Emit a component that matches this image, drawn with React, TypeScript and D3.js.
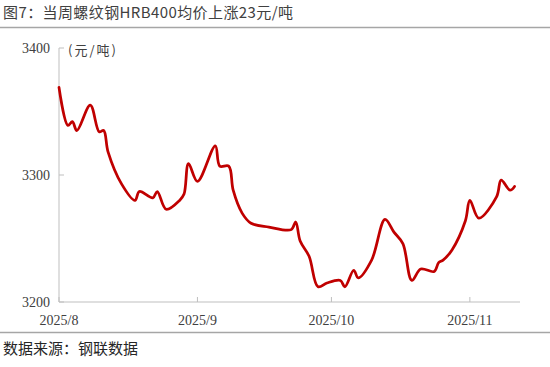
import React from 'react'
import * as d3 from 'd3'

// 螺纹钢HRB400均价（元/吨）
const dates = [
  '2025-08-01', '2025-08-03', '2025-08-04', '2025-08-05', '2025-08-08', '2025-08-10',
  '2025-08-11', '2025-08-12', '2025-08-15', '2025-08-18', '2025-08-19', '2025-08-22',
  '2025-08-23', '2025-08-25', '2025-08-28', '2025-08-29', '2025-08-30', '2025-09-01',
  '2025-09-05', '2025-09-06', '2025-09-08', '2025-09-09', '2025-09-11', '2025-09-13',
  '2025-09-17', '2025-09-22', '2025-09-23', '2025-09-24', '2025-09-26', '2025-09-28',
  '2025-09-30', '2025-10-03', '2025-10-04', '2025-10-06', '2025-10-07', '2025-10-10',
  '2025-10-13', '2025-10-15', '2025-10-17', '2025-10-19', '2025-10-21', '2025-10-24',
  '2025-10-25', '2025-10-26', '2025-10-28', '2025-10-31', '2025-11-01', '2025-11-03',
  '2025-11-07', '2025-11-08', '2025-11-10', '2025-11-11'
]
const prices = [
  3369, 3339, 3342, 3335, 3355, 3334,
  3335, 3318, 3293, 3280, 3287, 3282,
  3287, 3273, 3280, 3285, 3309, 3295,
  3323, 3307, 3307, 3288, 3270, 3262,
  3259, 3257, 3263, 3248, 3236, 3212,
  3215, 3217, 3212, 3225, 3219, 3233,
  3265, 3255, 3246, 3217, 3226, 3224,
  3231, 3233, 3241, 3264, 3280, 3266,
  3283, 3296, 3288, 3291
]
const yTicks = [3200, 3300, 3400]
const xTicks = ['2025-08-01', '2025-09-01', '2025-10-01', '2025-11-01']
const xTickLabels = ['2025/8', '2025/9', '2025/10', '2025/11']

const W = 550
const H = 367
const parse = d3.timeParse('%Y-%m-%d')

export default function App() {
  const x = d3.scaleTime()
    .domain([parse('2025-08-01')!, parse('2025-11-12')!])
    .range([59, 519])
  const y = d3.scaleLinear().domain([3200, 3400]).range([302, 48])

  const points = dates.map((d, i) => ({ date: parse(d)!, value: prices[i] }))
  const line = d3.line<{ date: Date; value: number }>()
    .x(d => x(d.date))
    .y(d => y(d.value))
    .curve(d3.curveCatmullRom.alpha(0.5))

  const axisColor = '#bfbfbf'
  const serif = '"Liberation Serif", "Times New Roman", serif'
  const cjk = '"Noto Sans CJK SC", sans-serif'

  return (
    <svg width={W} height={H} style={{ position: 'absolute', left: 0, top: 0, background: '#fff' }}>
      {/* 标题 */}
      <text x={3} y={18} fontFamily={cjk} fontSize={15} letterSpacing={0.4} fill="#404040">
        图7：当周螺纹钢HRB400均价上涨23元/吨
      </text>
      <line x1={0} x2={W} y1={27.5} y2={27.5} stroke="#a6a6a6" strokeWidth={1.5} />

      {/* 单位 */}
      <text x={68} y={55} fontFamily={cjk} fontSize={13} letterSpacing={2} fill="#404040">(元/吨)</text>

      {/* y 轴 */}
      <line x1={59} x2={59} y1={y(3400)} y2={y(3200)} stroke={axisColor} strokeWidth={1} />
      {yTicks.map(t => (
        <g key={t}>
          <line x1={59} x2={64} y1={y(t)} y2={y(t)} stroke={axisColor} />
          <text x={50} y={y(t)} dy="0.35em" textAnchor="end" fontFamily={serif} fontSize={14} fill="#404040">
            {t}
          </text>
        </g>
      ))}

      {/* x 轴 */}
      <line x1={59} x2={520} y1={y(3200)} y2={y(3200)} stroke={axisColor} strokeWidth={1} />
      {xTicks.map((t, i) => {
        const px = x(parse(t)!)
        return (
          <g key={t}>
            <line x1={px} x2={px} y1={y(3200)} y2={y(3200) - 5} stroke={axisColor} />
            <text x={px} y={325} textAnchor="middle" fontFamily={serif} fontSize={14} fill="#404040">
              {xTickLabels[i]}
            </text>
          </g>
        )
      })}

      {/* 价格线 */}
      <path d={line(points) || ''} fill="none" stroke="#c00000" strokeWidth={2.75} strokeLinejoin="round" strokeLinecap="round" />

      {/* 来源 */}
      <line x1={0} x2={W} y1={332.5} y2={332.5} stroke="#a6a6a6" strokeWidth={1.5} />
      <text x={3} y={354} fontFamily={cjk} fontSize={15} fill="#262626">数据来源：钢联数据</text>
    </svg>
  )
}
